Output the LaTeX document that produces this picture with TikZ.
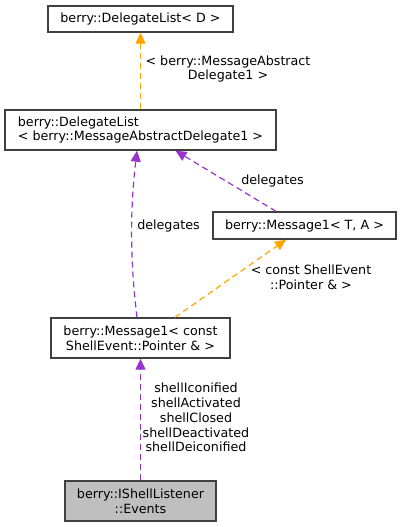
\documentclass[tikz,border=0pt]{standalone}
\usepackage{fontspec}
\setmainfont{DejaVu Sans}
\usetikzlibrary{arrows.meta,calc}
\definecolor{edgeorange}{HTML}{FFA500}
\definecolor{edgepurple}{HTML}{9A32CD}
\definecolor{boxline}{HTML}{404040}
\definecolor{boxgray}{HTML}{BFBFBF}
\tikzset{
  cls/.style={draw=boxline, line width=1.4pt, fill=white, inner sep=0pt, font=\fontsize{12.7}{14.8}\selectfont},
  lbl/.style={inner sep=0pt, align=center, font=\fontsize{12.7}{14.8}\selectfont},
  tip/.style={-{Triangle[length=11pt,width=10pt]}},
  orangeedge/.style={tip, draw=edgeorange, dash pattern=on 6pt off 4pt, line width=1.2pt},
  purpleedge/.style={tip, draw=edgepurple, dash pattern=on 6pt off 4pt, line width=1.2pt},
}
\begin{document}
\begin{tikzpicture}[x=1pt,y=-1pt]
\useasboundingbox (0,0) rectangle (401,527);
\node[cls, minimum width=185pt, minimum height=26pt] (A) at (140.5,19) {berry::DelegateList< D >};
\node[cls, minimum width=271pt, minimum height=40pt, align=left] (B) at (140.5,130) {berry::DelegateList\\< berry::MessageAbstractDelegate1 >};
\node[cls, minimum width=183pt, minimum height=27pt] (C) at (304.5,225.5) {berry::Message1< T, A >};
\node[cls, minimum width=179pt, minimum height=40pt, align=center] (D) at (140.5,338) {berry::Message1< const\\ShellEvent::Pointer \& >};
\node[cls, fill=boxgray, minimum width=151pt, minimum height=40pt, align=center] (E) at (140.5,501) {berry::IShellListener\\::Events};

\draw[orangeedge] (B.north) -- (A.south);
\node[lbl] (l1) at (228,69) {< berry::MessageAbstract\\Delegate1 >};

\draw[purpleedge] ($(C.north)+(-28.5,0)$) -- ($(B.south)+(35,0)$);
\node[lbl] (l2) at (272.5,180.5) {delegates};

\draw[purpleedge] ($(D.north)+(-3.5,0)$) .. controls (130,260) and (130,210) .. ($(B.south)+(-3.5,0)$);
\node[lbl] (l3) at (168.5,226) {delegates};

\draw[orangeedge] ($(D.north)+(34.5,0)$) -- ($(C.south)+(-18.5,0)$);
\node[lbl] (l4) at (311,277.5) {< const ShellEvent\\::Pointer \& >};

\draw[purpleedge] (E.north) -- (D.south);
\node[lbl] (l5) at (196,417.5) {shellIconified\\shellActivated\\shellClosed\\shellDeactivated\\shellDeiconified};
\end{tikzpicture}
\end{document}
